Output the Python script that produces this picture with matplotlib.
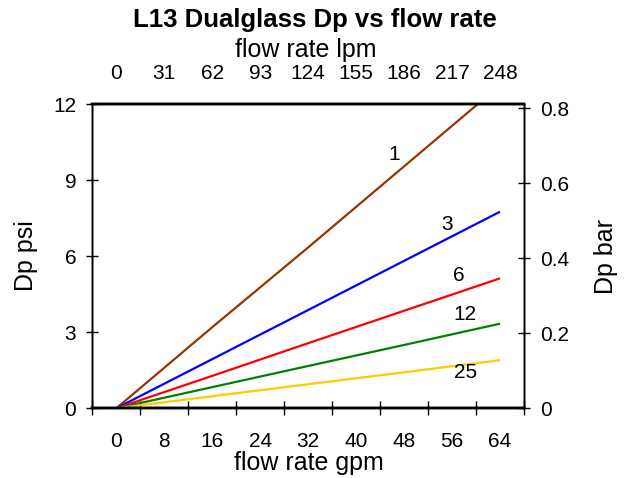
import matplotlib
matplotlib.use('Agg')
import matplotlib.pyplot as plt
import numpy as np

plt.rcParams['font.family'] = ['Liberation Sans', 'DejaVu Sans']

# data
flow_gpm = [0, 16, 32, 48, 64]
dp_1 = [0, 3.2, 6.35, 9.55, 12.75]
dp_3 = [0, 1.94, 3.88, 5.82, 7.76]
dp_6 = [0, 1.28, 2.57, 3.85, 5.13]
dp_12 = [0, 0.835, 1.67, 2.5, 3.34]
dp_25 = [0, 0.475, 0.95, 1.42, 1.90]

series_names = ['1', '3', '6', '12', '25']
series_colors = ['#993300', '#0000ff', '#ff0000', '#008000', '#ffcc00']
# where the curve labels sit (gpm, psi)
label_x = [46.4, 55.1, 57.2, 58.2, 58.2]
label_y = [10.03, 7.24, 5.26, 3.72, 1.40]

gpm_ticks = [0, 8, 16, 24, 32, 40, 48, 56, 64]
lpm_labels = [0, 31, 62, 93, 124, 155, 186, 217, 248]
psi_ticks = [0, 3, 6, 9, 12]
bar_ticks = [0, 0.2, 0.4, 0.6, 0.8]
bar_labels = ['0', '0.2', '0.4', '0.6', '0.8']
psi_per_bar = 14.8

W, H = 627, 478
fig = plt.figure(figsize=(W / 100, H / 100), dpi=100)
ax = fig.add_axes([92.3 / W, 1 - 408.3 / H, 431.7 / W, 304 / H])

for ys, c in zip([dp_1, dp_3, dp_6, dp_12, dp_25], series_colors):
    ax.plot(flow_gpm, ys, color=c, lw=1.6, solid_capstyle='butt')
for name, lx, ly in zip(series_names, label_x, label_y):
    ax.text(lx, ly, name, fontsize=15, ha='center', va='center')

ax.set_xlim(-4, 68)
ax.set_ylim(0, 12)

tick_fs = 15
ax.set_xticks(gpm_ticks)
ax.set_xticks(np.arange(-4, 69, 8), minor=True)
ax.set_yticks(psi_ticks)
ax.tick_params(axis='x', which='major', length=0, pad=17, labelsize=tick_fs)
ax.tick_params(axis='x', which='minor', direction='inout', length=9.5, width=1,
               top=True, bottom=True)
ax.tick_params(axis='y', which='major', direction='inout', length=9, width=1,
               pad=7, labelsize=tick_fs)

ax_top = ax.twiny()
ax_top.set_xlim(ax.get_xlim())
ax_top.set_xticks(gpm_ticks)
ax_top.set_xticklabels([str(v) for v in lpm_labels])
ax_top.tick_params(axis='x', which='major', length=0, pad=15, labelsize=tick_fs)

ax_right = ax.twinx()
ax_right.set_ylim(0, 12 / psi_per_bar)
ax_right.set_yticks(bar_ticks)
ax_right.set_yticklabels(bar_labels)
ax_right.tick_params(axis='y', which='major', direction='inout', length=9, width=1,
                     pad=7, labelsize=tick_fs)

for a in (ax, ax_top, ax_right):
    a.spines['top'].set_linewidth(1.7)
    a.spines['bottom'].set_linewidth(1.7)
    a.spines['left'].set_linewidth(1.0)
    a.spines['right'].set_linewidth(1.0)

fig.text(315 / W, 1 - 26.7 / H, 'L13 Dualglass Dp vs flow rate', fontsize=18.5,
         fontweight='bold', ha='center', va='baseline')
fig.text(305.5 / W, 1 - 57.3 / H, 'flow rate lpm', fontsize=18, ha='center', va='baseline')
fig.text(309 / W, 1 - 470 / H, 'flow rate gpm', fontsize=18, ha='center', va='baseline')
fig.text(26 / W, 1 - 256 / H, 'Dp psi', fontsize=18, rotation=90, ha='center', va='center')
fig.text(606 / W, 1 - 256.5 / H, 'Dp bar', fontsize=18, rotation=90, ha='center', va='center')

fig.savefig('out.png', dpi=100)
